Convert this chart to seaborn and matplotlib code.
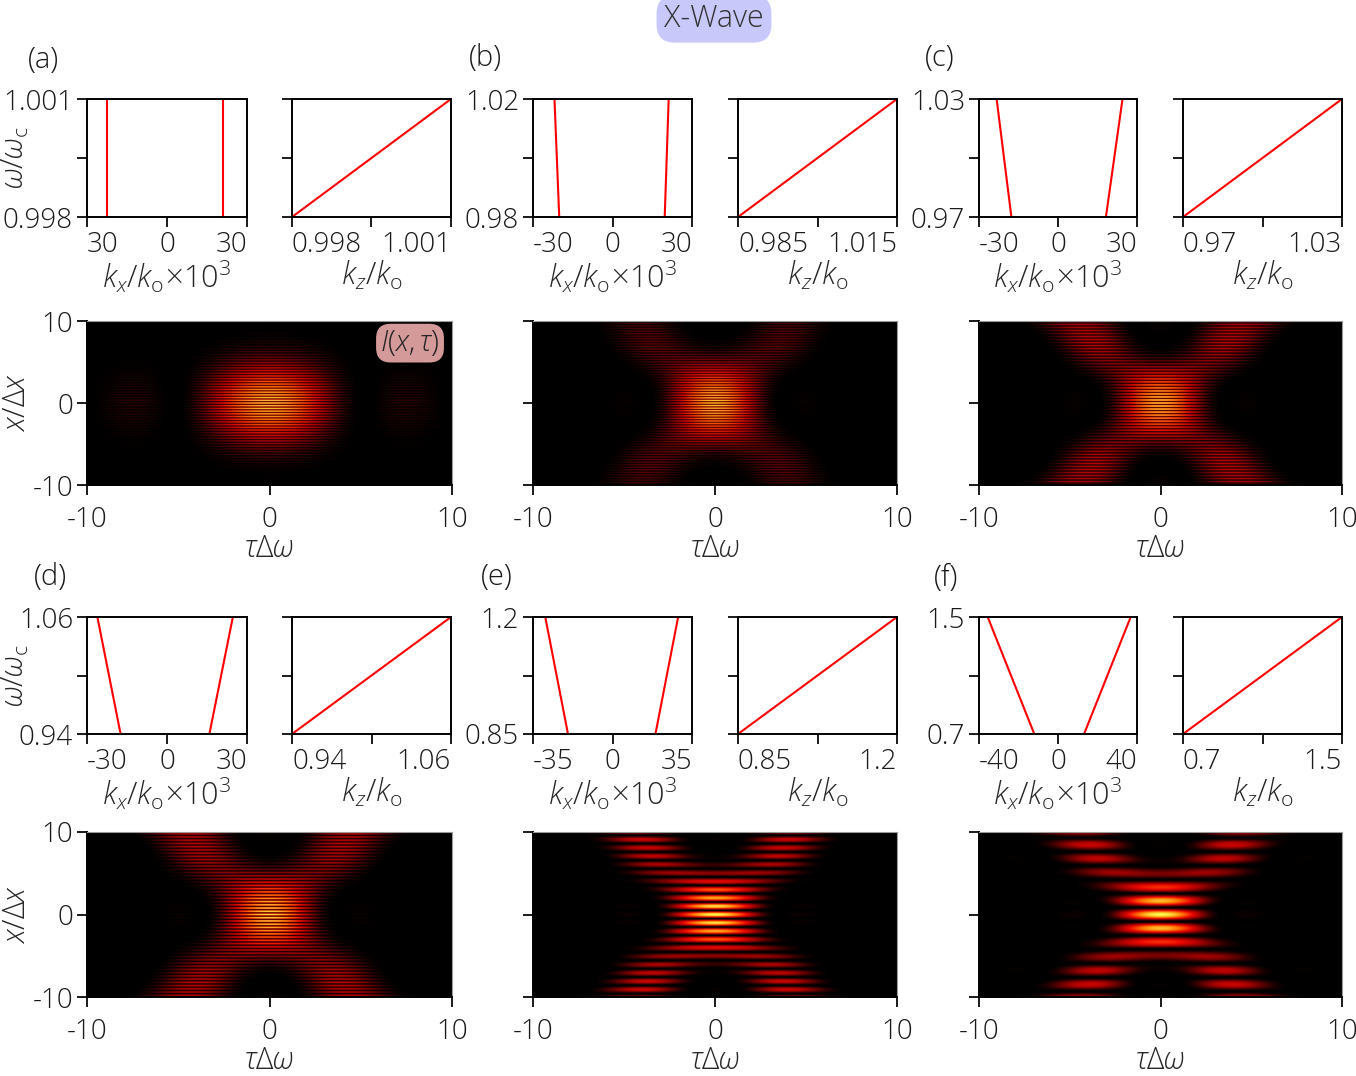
import numpy as np
import matplotlib
matplotlib.use('Agg')
import matplotlib.pyplot as plt
import seaborn as sns
from matplotlib.colors import LinearSegmentedColormap

sns.set_theme(style='ticks')
plt.rcParams['font.family'] = ['Open Sans', 'DejaVu Sans']
plt.rcParams['font.weight'] = 'light'
plt.rcParams['axes.unicode_minus'] = False
plt.rcParams['mathtext.fontset'] = 'custom'
plt.rcParams['mathtext.rm'] = 'Open Sans:light'
plt.rcParams['mathtext.it'] = 'Open Sans:italic:light'
plt.rcParams['mathtext.bf'] = 'Open Sans:bold'

### Data
panels = ['(a)', '(b)', '(c)', '(d)', '(e)', '(f)']
# omega/omega_c band
w_lo = [0.998, 0.98, 0.97, 0.94, 0.85, 0.7]
w_hi = [1.001, 1.02, 1.03, 1.06, 1.2, 1.5]
w_lo_lab = ['0.998', '0.98', '0.97', '0.94', '0.85', '0.7']
w_hi_lab = ['1.001', '1.02', '1.03', '1.06', '1.2', '1.5']
# k_z/k_o axis
kz_lo = [0.998, 0.985, 0.97, 0.94, 0.85, 0.7]
kz_hi = [1.001, 1.015, 1.03, 1.06, 1.2, 1.5]
kz_lo_lab = ['0.998', '0.985', '0.97', '0.94', '0.85', '0.7']
kz_hi_lab = ['1.001', '1.015', '1.03', '1.06', '1.2', '1.5']
# k_x/k_o x 10^3 axis
kx_lim = [30, 30, 30, 30, 35, 40]
kx_left_lab = ['30', '-30', '-30', '-30', '-35', '-40']
kx_right_lab = ['30', '30', '30', '30', '35', '40']
# spectral support lines: k_x at bottom / top of the band
kx_left_lo = [-22.5, -20.1, -17.7, -17.4, -19.6, -12.0]
kx_left_hi = [-22.5, -21.9, -23.3, -26.1, -29.6, -35.6]
kx_right_lo = [21.0, 19.7, 18.2, 15.9, 18.9, 13.2]
kx_right_hi = [21.0, 21.2, 24.5, 24.7, 28.9, 36.8]
# intensity maps: fringe wavenumber (x*dx units), arm position at x/dx = 10,
# half width of the spectral band (tau*dw units), edge taper, spatial envelope width
fringe_k = [9.5, 10.0, 8.5, 8.0, 3.1, 1.85]
arm_tau = [0.0, 4.2, 4.8, 4.7, 4.5, 4.7]
band_half = [0.6, 1.0, 1.05, 1.0, 1.05, 1.05]
band_taper = [0.0, 0.6, 0.6, 0.6, 0.6, 0.6]
x_env = [4.0, 9.0, 100.0, 100.0, 100.0, 100.0]

W, H = 1356, 1076
fig = plt.figure(figsize=(W / 100, H / 100), dpi=100)


def box(x0, y0, x1, y1):
    return [x0 / W, 1 - y1 / H, (x1 - x0) / W, (y1 - y0) / H]


cmap = LinearSegmentedColormap.from_list('xwave', [
    (0.0, '#000000'), (0.08, '#500000'), (0.2, '#a80000'),
    (0.36, '#ee0800'), (0.62, '#ff7400'), (1.0, '#ffff50')])

cols = [(87, 247, 292, 451, 452), (533, 692, 738, 897, 897), (979, 1137, 1183, 1342, 1342)]
rows = [(99, 217, 321, 485), (617, 734, 832, 997)]
lab_pos = [(43, 60), (485, 58), (940, 58), (50, 577), (497, 577), (946, 578)]

fs = 20     # tick labels
fl = 22     # axis labels
lw_sp = 1.4


def style(ax, pad=3):
    ax.tick_params(direction='out', length=7, width=lw_sp, labelsize=fs, pad=pad,
                   colors='#1a1a1a', top=False, right=False)
    for s in ax.spines.values():
        s.set_linewidth(lw_sp)
        s.set_color('black')


X = np.linspace(-10, 10, 331)
T = np.linspace(-10, 10, 731)

for i in range(6):
    r, c = divmod(i, 3)
    ytop, ybot, htop, hbot = rows[r]
    kx0, kx1, kz0, kz1, hx1 = cols[c]
    lo, hi = w_lo[i], w_hi[i]
    mid = (lo + hi) / 2

    # k_x panel
    ax = fig.add_axes(box(kx0, ytop, kx1, ybot))
    sns.lineplot(x=[kx_left_lo[i], kx_left_hi[i]], y=[lo, hi], color='red', lw=1.5,
                 sort=False, estimator=None, ax=ax)
    sns.lineplot(x=[kx_right_lo[i], kx_right_hi[i]], y=[lo, hi], color='red', lw=1.5,
                 sort=False, estimator=None, ax=ax)
    L = kx_lim[i]
    ax.set_xlim(-L, L)
    ax.set_ylim(lo, hi)
    ax.set_xticks([-L, 0, L])
    ax.set_xticklabels([kx_left_lab[i], '0', kx_right_lab[i]])
    ax.set_yticks([lo, mid, hi])
    ax.set_yticklabels([w_lo_lab[i], '', w_hi_lab[i]])
    style(ax)
    tl = ax.get_xticklabels()
    tl[0].set_ha('left')
    tl[-1].set_ha('right')
    ax.set_xlabel(r'$k_x/k_{\mathrm{o}}\!\times\!10^3$', fontsize=fl, labelpad=0)
    if c == 0:
        ax.set_ylabel(r'$\omega/\omega_{\mathrm{c}}$', fontsize=fl)
        ax.yaxis.set_label_coords(-0.35, 0.5)
    else:
        ax.set_ylabel('')

    # k_z panel
    ax = fig.add_axes(box(kz0, ytop, kz1, ybot))
    zlo, zhi = kz_lo[i], kz_hi[i]
    sns.lineplot(x=[zlo, zhi], y=[lo, hi], color='red', lw=1.5, sort=False,
                 estimator=None, ax=ax)
    ax.set_xlim(zlo, zhi)
    ax.set_ylim(lo, hi)
    ax.set_xticks([zlo, (zlo + zhi) / 2, zhi])
    ax.set_xticklabels([kz_lo_lab[i], '', kz_hi_lab[i]])
    ax.set_yticks([lo, mid, hi])
    ax.set_yticklabels([])
    style(ax)
    tl = ax.get_xticklabels()
    tl[0].set_ha('left')
    tl[-1].set_ha('right')
    ax.set_xlabel(r'$k_z/k_{\mathrm{o}}$', fontsize=fl, labelpad=0)
    ax.set_ylabel('')

    # intensity map: superpose the two spectral branches over the band
    u = np.linspace(-band_half[i], band_half[i], 240)
    wgt = 1 - band_taper[i] * (u / band_half[i]) ** 2
    kx = fringe_k[i] + (arm_tau[i] / 10) * u
    A = np.cos(np.outer(X, kx)) * wgt
    B = np.cos(np.outer(u, T))
    E = (A @ B) * np.exp(-X[:, None] ** 2 / (2 * x_env[i] ** 2))
    I = E ** 2
    ax = fig.add_axes(box(kx0, htop, hx1, hbot))
    ax.imshow(I, extent=[-10, 10, -10, 10], origin='lower', aspect='auto',
              cmap=cmap, vmin=0, vmax=I.max(), interpolation='bilinear')
    ax.set_xticks([-10, 0, 10])
    ax.set_xticklabels(['-10', '0', '10'])
    ax.set_yticks([-10, 0, 10])
    style(ax)
    ax.tick_params(axis='x', pad=8)
    ax.spines['top'].set_color('#999999')
    ax.spines['right'].set_color('#999999')
    ax.spines['top'].set_linewidth(0.8)
    ax.spines['right'].set_linewidth(0.8)
    if c == 0:
        ax.set_yticklabels(['-10', '0', '10'])
        ax.set_ylabel(r'$x/\Delta x$', fontsize=fl)
        ax.yaxis.set_label_coords(-0.15, 0.5)
    else:
        ax.set_yticklabels([])
    ax.set_xlabel(r'$\tau\Delta\omega$', fontsize=fl, labelpad=0)
    if i == 0:
        ax.text(0.885, 0.865, r'$I(x,\tau)$', transform=ax.transAxes, fontsize=21,
                ha='center', va='center', color='#222222',
                bbox=dict(boxstyle='round,pad=0.15,rounding_size=0.5',
                          fc='#d49a9a', ec='none'))

    fig.text(lab_pos[i][0] / W, 1 - lab_pos[i][1] / H, panels[i], fontsize=21,
             ha='center', va='center', color='#1a1a1a')

fig.text(714 / W, 1 - 19 / H, 'X-Wave', fontsize=22, ha='center', va='center',
         color='#333333',
         bbox=dict(boxstyle='round,pad=0.25,rounding_size=0.6', fc='#c8c8fa', ec='none'))

fig.savefig('out.png', dpi=100)
